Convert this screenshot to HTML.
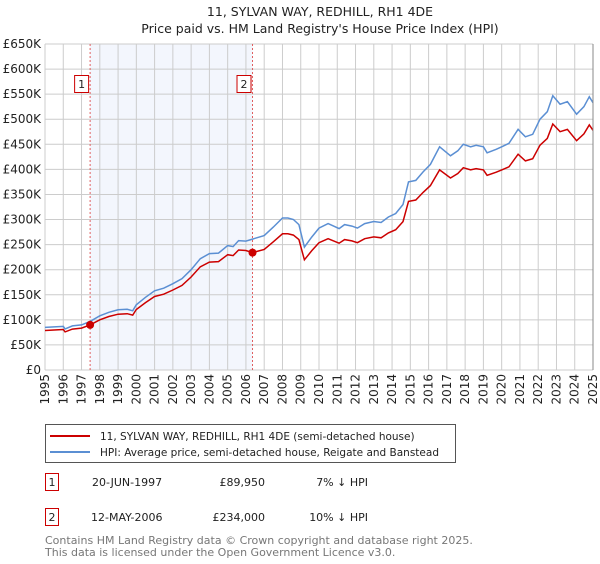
<!DOCTYPE html>
<html><head><meta charset="utf-8"><style>
body{margin:0;background:#fff;font-family:"DejaVu Sans","Liberation Sans",sans-serif;}
svg text{font-family:"DejaVu Sans","Liberation Sans",sans-serif;}
</style></head><body>
<svg id="chart" width="600" height="560" xmlns="http://www.w3.org/2000/svg">
<text x="320" y="16" text-anchor="middle" font-size="12.5" fill="#222">11, SYLVAN WAY, REDHILL, RH1 4DE</text>
<text x="320" y="33" text-anchor="middle" font-size="12.5" fill="#222">Price paid vs. HM Land Registry's House Price Index (HPI)</text>
<g id="grid"></g><g id="series"></g><g id="axes"></g>
<g>
<rect x="45.5" y="424.5" width="410" height="38" fill="#fff" stroke="#555"/>
<line x1="50" y1="436" x2="90" y2="436" stroke="#cc0000" stroke-width="2"/>
<text x="100" y="440" font-size="10.5" fill="#222">11, SYLVAN WAY, REDHILL, RH1 4DE (semi-detached house)</text>
<line x1="50" y1="452" x2="90" y2="452" stroke="#5b8fd3" stroke-width="2"/>
<text x="100" y="456" font-size="10.5" fill="#222">HPI: Average price, semi-detached house, Reigate and Banstead</text>
</g>
<g>
<rect x="45.5" y="473.5" width="13" height="17" fill="#fff" stroke="#cc0000"/>
<text x="52" y="486" font-size="11" text-anchor="middle" fill="#222">1</text>
<text x="92" y="486" font-size="11" fill="#222">20-JUN-1997</text>
<text x="265" y="486" font-size="11" text-anchor="end" fill="#222">£89,950</text>
<text x="368" y="486" font-size="11" text-anchor="end" fill="#222">7% ↓ HPI</text>
<rect x="45.5" y="508.5" width="13" height="17" fill="#fff" stroke="#cc0000"/>
<text x="52" y="521" font-size="11" text-anchor="middle" fill="#222">2</text>
<text x="91" y="521" font-size="11" fill="#222">12-MAY-2006</text>
<text x="265" y="521" font-size="11" text-anchor="end" fill="#222">£234,000</text>
<text x="368" y="521" font-size="11" text-anchor="end" fill="#222">10% ↓ HPI</text>
</g>
<text x="45" y="544" font-size="11" fill="#777">Contains HM Land Registry data © Crown copyright and database right 2025.</text>
<text x="45" y="556" font-size="11" fill="#777">This data is licensed under the Open Government Licence v3.0.</text>
</svg>
<script>
const hpiYears=[1995,1995.5,1996,1996.1,1996.5,1997,1997.47,1998,1998.5,1999,1999.5,1999.8,2000,2000.5,2001,2001.5,2002,2002.5,2003,2003.5,2004,2004.5,2005,2005.3,2005.6,2006,2006.36,2007,2007.5,2008,2008.3,2008.6,2008.9,2009.2,2009.6,2010,2010.5,2010.8,2011.1,2011.4,2011.8,2012.1,2012.5,2013,2013.4,2013.8,2014.2,2014.6,2014.9,2015.3,2015.7,2016.1,2016.6,2017.2,2017.6,2017.9,2018.3,2018.6,2019,2019.2,2019.7,2020,2020.4,2020.9,2021.3,2021.7,2022.1,2022.5,2022.8,2023.2,2023.6,2024.1,2024.5,2024.8,2025];
const hpiValues=[85,86,87,82,88,90,97,108,115,120,121,118,130,145,158,163,172,182,200,222,232,233,248,246,258,257,261,268,285,303,303,300,290,245,265,283,292,287,282,290,287,283,292,296,294,305,312,330,375,378,395,410,445,427,437,450,445,448,445,433,440,445,452,480,465,470,500,515,547,530,535,510,525,545,533];
const sales=[{t:1997.47,p:89950,label:"1"},{t:2006.36,p:234000,label:"2"}];
const yTicks=[0,50,100,150,200,250,300,350,400,450,500,550,600,650];
const xTicks=[1995,1996,1997,1998,1999,2000,2001,2002,2003,2004,2005,2006,2007,2008,2009,2010,2011,2012,2013,2014,2015,2016,2017,2018,2019,2020,2021,2022,2023,2024,2025];
const X0=45,X1=593,Y0=370,Y1=44;
const x=t=>X0+(t-1995)/30*(X1-X0);
const y=v=>Y0-v/650*(Y0-Y1);
const NS="http://www.w3.org/2000/svg";
function mk(tag,parent,attrs){const e=document.createElementNS(NS,tag);for(const k in attrs)e.setAttribute(k,attrs[k]);parent.appendChild(e);return e;}
const grid=document.getElementById('grid'),ser=document.getElementById('series'),ax=document.getElementById('axes');
const shade=mk('rect',grid,{x:x(sales[0].t),y:Y1,width:x(sales[1].t)-x(sales[0].t),height:Y0-Y1,fill:'#eef2fc',opacity:0.7});


yTicks.forEach(v=>{
 const l=mk('line',grid,{x1:X0,x2:X1,y1:y(v),y2:y(v),stroke:'#cccccc'});
 
 
 const t=mk('text',ax,{x:X0-4,y:y(v)+4,'text-anchor':'end','font-size':12,fill:'#222'});
 
 
 t.textContent=v===0?'£0':'£'+v+'K';
});
xTicks.forEach(yr=>{
 const l=mk('line',grid,{x1:x(yr),x2:x(yr),y1:Y1,y2:Y0,stroke:'#cccccc'});
 
 
 const t=mk('text',ax,{x:0,y:0,'text-anchor':'end','font-size':12,fill:'#222',transform:`translate(${x(yr)+4},374) rotate(-90)`});
 
 
 t.textContent=yr;
});
mk('line',ax,{x1:X1,x2:X1,y1:Y1,y2:Y0,stroke:'#888'});
sales.forEach(s=>{
 const l=mk('line',grid,{x1:x(s.t),x2:x(s.t),y1:Y1,y2:Y0,stroke:'#e06060','stroke-dasharray':'2,2'});
 
 
 const r=mk('rect',ax,{x:x(s.t)-15.5,y:75.5,width:14,height:17,fill:'#fff',stroke:'#cc0000'});
 
 
 const t=mk('text',ax,{x:x(s.t)-8.5,y:88,'text-anchor':'middle','font-size':11,fill:'#222'});
 
 
 t.textContent=s.label;
});
function hpiAt(t){for(let i=0;i<hpiYears.length-1;i++){if(t>=hpiYears[i]&&t<=hpiYears[i+1]){const f=(t-hpiYears[i])/(hpiYears[i+1]-hpiYears[i]);return hpiValues[i]+f*(hpiValues[i+1]-hpiValues[i]);}}return hpiValues[hpiValues.length-1];}
const r1=sales[0].p/1000/hpiAt(sales[0].t), r2=sales[1].p/1000/hpiAt(sales[1].t);
const bp=hpiYears.map((t,i)=>`${i?'L':'M'}${x(t).toFixed(1)},${y(hpiValues[i]).toFixed(1)}`).join('');
const hl=mk('path',ser,{d:bp,fill:'none',stroke:'#5b8fd3','stroke-width':1.5});


const rp=hpiYears.map((t,i)=>{const r=t<sales[1].t?r1:r2;return `${i?'L':'M'}${x(t).toFixed(1)},${y(hpiValues[i]*r).toFixed(1)}`;}).join('');
const pl=mk('path',ser,{d:rp,fill:'none',stroke:'#cc0000','stroke-width':1.5});


sales.forEach(s=>{
 const c=mk('circle',ser,{cx:x(s.t),cy:y(s.p/1000),r:4,fill:'#cc0000'});
 
 
});
</script>
</body></html>
